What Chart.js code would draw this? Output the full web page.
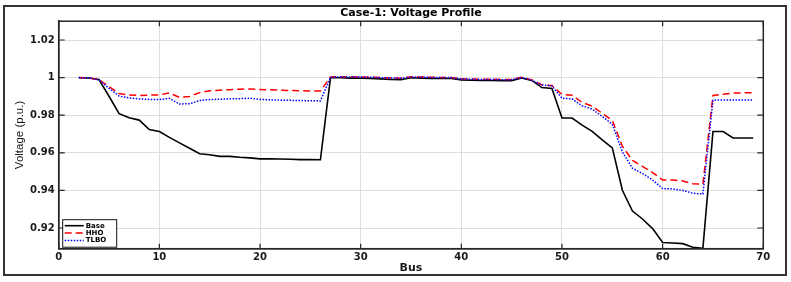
<!DOCTYPE html>
<html>
<head>
<meta charset="utf-8">
<title>Case-1: Voltage Profile</title>
<script src="https://cdn.jsdelivr.net/npm/chart.js@4.4.1/dist/chart.umd.min.js"></script>
<style>
  html, body { margin: 0; padding: 0; background: #fff; }
  #wrap { position: relative; width: 791px; height: 282px; }
  #frame { position: absolute; left: 3px; top: 5px; width: 780px; height: 267px;
           border: 2px solid #333; pointer-events: none; }
</style>
</head>
<body>
<div id="wrap">
  <canvas id="chart-voltage" width="791" height="282"></canvas>
  <div id="frame"></div>
</div>
<script>
// bus numbers on the x axis (as plotted)
const xBus = [2, 3, 4, 5, 6, 7, 8, 9, 10, 11, 12, 13, 14, 15, 16, 17, 18, 19, 20, 21,
  22, 23, 24, 25, 26, 27, 28, 29, 30, 31, 32, 33, 34, 35, 36, 37, 38, 39, 40, 41,
  42, 43, 44, 45, 46, 47, 48, 49, 50, 51, 52, 53, 54, 55, 56, 57, 58, 59, 60, 61,
  62, 63, 64, 65, 66, 67, 68, 69];

const baseV = [0.9999, 0.9998, 0.9990, 0.9901, 0.9808, 0.9786, 0.9774, 0.9724, 0.9713, 0.9682,
  0.9653, 0.9624, 0.9595, 0.9590, 0.9581, 0.9581, 0.9576, 0.9573, 0.9568, 0.9568,
  0.9567, 0.9566, 0.9564, 0.9564, 0.9563, 0.9999, 0.9999, 0.9997, 0.9997, 0.9996,
  0.9993, 0.9990, 0.9989, 0.9999, 0.9997, 0.9996, 0.9995, 0.9995, 0.9988, 0.9986,
  0.9985, 0.9985, 0.9984, 0.9984, 0.9998, 0.9985, 0.9947, 0.9942, 0.9785, 0.9785,
  0.9747, 0.9714, 0.9669, 0.9626, 0.9401, 0.9290, 0.9248, 0.9197, 0.9123, 0.9120,
  0.9117, 0.9098, 0.9092, 0.9713, 0.9713, 0.9679, 0.9679, 0.9679];

const hhoV = [1.0000, 0.9998, 0.9989, 0.9952, 0.9915, 0.9908, 0.9905, 0.9907, 0.9908, 0.9918,
  0.9895, 0.9900, 0.9920, 0.9930, 0.9933, 0.9936, 0.9938, 0.9940, 0.9937, 0.9935,
  0.9933, 0.9931, 0.9930, 0.9929, 0.9929, 1.0003, 1.0005, 1.0004, 1.0003, 1.0002,
  1.0000, 0.9998, 0.9997, 1.0004, 1.0003, 1.0002, 1.0001, 1.0001, 0.9994, 0.9992,
  0.9991, 0.9991, 0.9990, 0.9990, 1.0002, 0.9988, 0.9962, 0.9958, 0.9910, 0.9906,
  0.9868, 0.9848, 0.9810, 0.9772, 0.9635, 0.9560, 0.9528, 0.9495, 0.9456, 0.9456,
  0.9450, 0.9436, 0.9433, 0.9905, 0.9912, 0.9918, 0.9919, 0.9919];

const tlboV = [1.0000, 0.9998, 0.9988, 0.9943, 0.9902, 0.9892, 0.9887, 0.9884, 0.9883, 0.9890,
  0.9860, 0.9861, 0.9878, 0.9883, 0.9885, 0.9887, 0.9888, 0.9890, 0.9884, 0.9882,
  0.9880, 0.9879, 0.9878, 0.9877, 0.9876, 1.0002, 1.0004, 1.0003, 1.0003, 1.0002,
  1.0000, 0.9998, 0.9997, 1.0003, 1.0002, 1.0001, 1.0000, 1.0000, 0.9993, 0.9991,
  0.9990, 0.9990, 0.9989, 0.9989, 1.0001, 0.9986, 0.9960, 0.9956, 0.9890, 0.9887,
  0.9850, 0.9832, 0.9793, 0.9752, 0.9605, 0.9518, 0.9490, 0.9455, 0.9410, 0.9408,
  0.9400, 0.9385, 0.9381, 0.9880, 0.9881, 0.9881, 0.9881, 0.9881];

const seriesNames = ['Base', 'HHO', 'TLBO'];
const xTicks = [0, 10, 20, 30, 40, 50, 60, 70];
const yTicks = [0.92, 0.94, 0.96, 0.98, 1, 1.02];

const axisColor = '#262626';
const gridColor = '#dedede';
const tickFont = { family: 'DejaVu Sans', size: 10, weight: 'bold' };

function points(vals) {
  return xBus.map((x, i) => ({ x: x, y: vals[i] }));
}

// MATLAB-style box with inward tick marks
const axesBox = {
  id: 'axesBox',
  afterDatasetsDraw(chart) {
    const { ctx, chartArea: a, scales: { x, y } } = chart;
    ctx.save();
    ctx.strokeStyle = axisColor;
    ctx.lineWidth = 1.2;
    ctx.beginPath();
    xTicks.forEach(v => {
      const px = x.getPixelForValue(v);
      ctx.moveTo(px, a.bottom); ctx.lineTo(px, a.bottom - 5);
      ctx.moveTo(px, a.top); ctx.lineTo(px, a.top + 5);
    });
    yTicks.forEach(v => {
      const py = y.getPixelForValue(v);
      ctx.moveTo(a.left, py); ctx.lineTo(a.left + 6, py);
      ctx.moveTo(a.right, py); ctx.lineTo(a.right - 6, py);
    });
    ctx.stroke();
    ctx.lineWidth = 1.5;
    ctx.strokeRect(a.left, a.top, a.right - a.left, a.bottom - a.top);
    ctx.restore();
  }
};

// legend box in the lower-left corner of the axes
const boxLegend = {
  id: 'boxLegend',
  afterDraw(chart) {
    const { ctx, chartArea: a } = chart;
    const left = a.left + 4, top = a.bottom - 29, w = 54, h = 27.5;
    ctx.save();
    ctx.fillStyle = '#fff';
    ctx.fillRect(left, top, w, h);
    ctx.strokeStyle = '#111';
    ctx.lineWidth = 1;
    ctx.strokeRect(left, top, w, h);
    ctx.font = 'bold 7px "DejaVu Sans"';
    ctx.textBaseline = 'middle';
    chart.data.datasets.forEach((ds, i) => {
      const yy = top + 6 + i * 7.4;
      ctx.strokeStyle = ds.borderColor;
      ctx.lineWidth = ds.borderWidth;
      ctx.setLineDash(ds.borderDash || []);
      ctx.beginPath();
      ctx.moveTo(left + 2, yy);
      ctx.lineTo(left + 21, yy);
      ctx.stroke();
      ctx.setLineDash([]);
      ctx.fillStyle = '#000';
      ctx.fillText(ds.label, left + 23, yy);
    });
    ctx.restore();
  }
};

const ctx = document.getElementById('chart-voltage').getContext('2d');
new Chart(ctx, {
  type: 'line',
  data: {
    datasets: [
      { label: seriesNames[0], data: points(baseV), borderColor: '#000000', borderWidth: 1.6,
        pointRadius: 0, fill: false, order: 3 },
      { label: seriesNames[1], data: points(hhoV), borderColor: '#ff0000', borderWidth: 1.5,
        borderDash: [7, 4], pointRadius: 0, fill: false, order: 2 },
      { label: seriesNames[2], data: points(tlboV), borderColor: '#0000ff', borderWidth: 1.5,
        borderDash: [1.5, 1.5], pointRadius: 0, fill: false, order: 1 }
    ]
  },
  options: {
    responsive: false,
    animation: false,
    devicePixelRatio: 1,
    layout: { padding: { left: 0, right: 27.7, top: 0, bottom: 0 } },
    plugins: {
      legend: { display: false },
      tooltip: { enabled: false },
      title: {
        display: true,
        fullSize: false,
        text: 'Case-1: Voltage Profile',
        color: '#000',
        font: { family: 'DejaVu Sans', size: 11, weight: 'bold' },
        padding: { top: 7, bottom: 1 }
      }
    },
    scales: {
      x: {
        type: 'linear',
        min: 0,
        max: 70,
        afterBuildTicks: s => { s.ticks = xTicks.map(v => ({ value: v })); },
        afterFit: s => { s.height = 33.3; },
        grid: { color: gridColor, drawTicks: false },
        border: { color: axisColor, width: 1.5 },
        ticks: { font: tickFont, color: '#1a1a1a', padding: 3, maxRotation: 0 },
        title: {
          display: true, text: 'Bus', color: '#1a1a1a',
          font: { family: 'DejaVu Sans', size: 11, weight: 'bold' },
          padding: { top: 0, bottom: 7 }
        }
      },
      y: {
        type: 'linear',
        min: 0.909,
        max: 1.03,
        afterBuildTicks: s => { s.ticks = yTicks.map(v => ({ value: v })); },
        afterFit: s => { s.width = 58.7; },
        grid: { color: gridColor, drawTicks: false },
        border: { color: axisColor, width: 1.5 },
        ticks: {
          font: tickFont, color: '#1a1a1a', padding: 4,
          callback: v => String(+v.toFixed(2))
        },
        title: {
          display: true, text: 'Voltage (p.u.)', color: '#1a1a1a',
          font: { family: 'Liberation Sans', size: 11.5 },
          padding: { top: 13, bottom: 0 }
        }
      }
    }
  },
  plugins: [axesBox, boxLegend]
});
</script>
</body>
</html>
